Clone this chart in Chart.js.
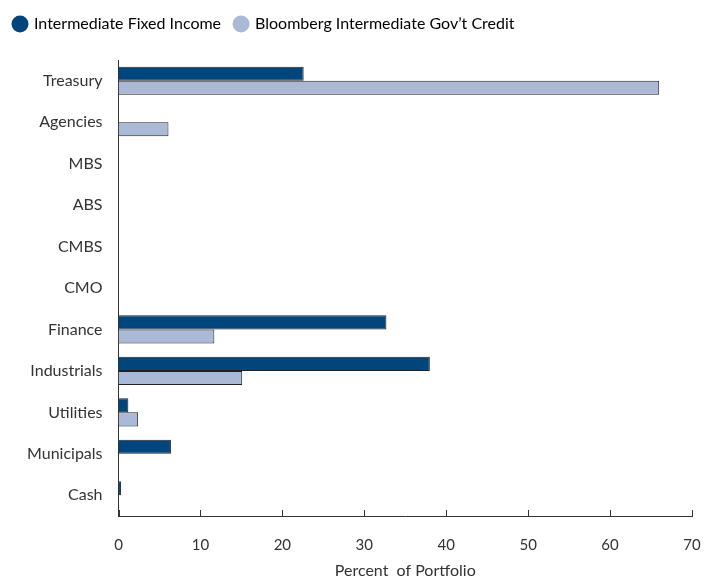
<!DOCTYPE html>
<html>
<head>
<meta charset="utf-8">
<script src="https://cdn.jsdelivr.net/npm/chart.js@4.4.0/dist/chart.umd.min.js"></script>
<style>
  html, body { margin: 0; padding: 0; background: #fff; }
  #wrap { width: 706px; height: 577px; position: relative; }
</style>
</head>
<body>
<div id="wrap"><canvas id="chart" width="706" height="577"></canvas></div>
<script>
// Sector weights, percent of portfolio
const categories = ['Treasury', 'Agencies', 'MBS', 'ABS', 'CMBS', 'CMO', 'Finance', 'Industrials', 'Utilities', 'Municipals', 'Cash'];
const fundValues = [22.6, 0, 0, 0, 0, 0, 32.7, 38.0, 1.2, 6.4, 0.3];
const benchValues = [66.0, 6.1, 0, 0, 0, 0, 11.7, 15.1, 2.4, 0, 0];
const xTicks = [0, 10, 20, 30, 40, 50, 60, 70];
const xTitle = 'Percent  of Portfolio';

const FONT = 'Lato, "Open Sans", sans-serif';
const TEXT = '#333333';

// tick marks pointing up from the x axis, and the axis title
const axisExtras = {
    id: 'axisExtras',
    afterDraw(chart) {
        const x = chart.scales.x;
        const ctx = chart.ctx;
        ctx.save();
        ctx.strokeStyle = '#333';
        ctx.lineWidth = 1;
        xTicks.forEach(v => {
            const px = Math.round(x.getPixelForValue(v)) + 0.5;
            ctx.beginPath();
            ctx.moveTo(px, x.top);
            ctx.lineTo(px, x.top - 6);
            ctx.stroke();
        });
        ctx.fillStyle = TEXT;
        ctx.font = '16px ' + FONT;
        ctx.textAlign = 'center';
        ctx.textBaseline = 'middle';
        ctx.fillText(xTitle, (x.left + x.right) / 2, x.top + 55);
        ctx.restore();
    }
};

const ctx = document.getElementById('chart').getContext('2d');
new Chart(ctx, {
    type: 'bar',
    data: {
        labels: categories,
        datasets: [
            {
                label: 'Intermediate Fixed Income',
                data: fundValues,
                backgroundColor: '#00457c',
                borderColor: '#222',
                borderWidth: 1,
                borderSkipped: 'start'
            },
            {
                label: 'Bloomberg Intermediate Gov\u2019t Credit',
                data: benchValues,
                backgroundColor: '#a9b9d6',
                borderColor: '#222',
                borderWidth: 1,
                borderSkipped: 'start'
            }
        ]
    },
    options: {
        indexAxis: 'y',
        responsive: false,
        animation: false,
        layout: { padding: { left: 0, right: 14, top: 2, bottom: 3 } },
        datasets: { bar: { barPercentage: 1, categoryPercentage: 0.68 } },
        plugins: {
            tooltip: { enabled: false },
            legend: {
                display: true,
                position: 'top',
                align: 'start',
                labels: {
                    usePointStyle: true,
                    pointStyle: 'circle',
                    boxWidth: 12,
                    boxHeight: 12,
                    padding: 14,
                    color: TEXT,
                    font: { family: FONT, size: 16 },
                    generateLabels(chart) {
                        return chart.data.datasets.map((ds, i) => ({
                            text: ds.label,
                            fillStyle: ds.backgroundColor,
                            strokeStyle: ds.backgroundColor,
                            lineWidth: 0,
                            pointStyle: 'circle',
                            datasetIndex: i
                        }));
                    }
                }
            }
        },
        scales: {
            x: {
                min: 0,
                max: 70,
                afterBuildTicks(scale) { scale.ticks = xTicks.map(v => ({ value: v })); },
                afterFit(scale) { scale.paddingRight = 0; },
                grid: { display: false, drawTicks: false },
                border: { display: true, color: '#333', width: 1 },
                ticks: { color: TEXT, padding: 20, font: { family: FONT, size: 15 } }
            },
            y: {
                afterFit(scale) { scale.width += 11; },
                grid: { display: false, drawTicks: false },
                border: { display: true, color: '#333', width: 1 },
                ticks: { color: TEXT, padding: 16, font: { family: FONT, size: 16 } }
            }
        }
    },
    plugins: [axisExtras, {
        id: 'legendGap',
        beforeInit(chart) {
            const fit = chart.legend.fit;
            chart.legend.fit = function () {
                fit.bind(chart.legend)();
                this.height += 18;
            };
        }
    }]
});
</script>
</body>
</html>
